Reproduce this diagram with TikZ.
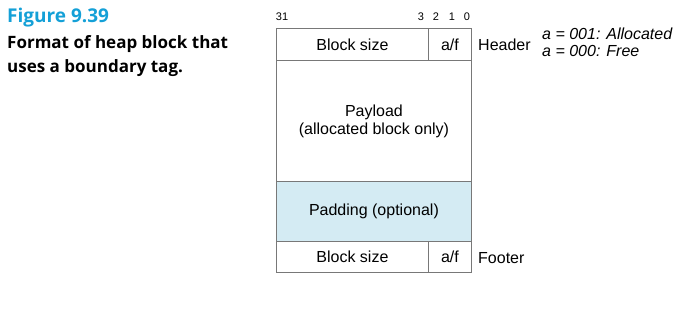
\documentclass[tikz,border=0pt]{standalone}
\usepackage{fontspec}
\setmainfont{Liberation Sans}
\newfontfamily\titlefont{Open Sans}
\definecolor{figblue}{RGB}{20,160,215}
\definecolor{padblue}{RGB}{212,235,243}
\definecolor{linegray}{RGB}{120,120,120}

\tikzset{
  cell/.style={draw=linegray, line width=0.9pt, inner sep=0pt, font=\fontsize{16}{19}\selectfont},
  bitnum/.style={font=\fontsize{11}{13}\selectfont, inner sep=0pt},
  side/.style={anchor=west, inner sep=0pt, font=\fontsize{16}{19}\selectfont},
  caption/.style={anchor=north west, inner sep=0pt, align=left, text=black,
    font=\titlefont\bfseries\fontsize{17}{24}\selectfont}
}

\begin{document}
\begin{tikzpicture}[x=1pt,y=-1pt]
    \useasboundingbox (0,0) rectangle (700,312);

    % Caption
    \node[caption, text=figblue, font=\titlefont\bfseries\fontsize{19}{24}\selectfont] (fig) at (7,8) {Figure 9.39};
    \node[caption] (cap) at (7,35) {Format of heap block that\\uses a boundary tag.};

    % Bit positions
    \node[bitnum] (b31) at (282,17) {31};
    \node[bitnum] (b3) at (421,17) {3};
    \node[bitnum] (b2) at (436,17) {2};
    \node[bitnum] (b1) at (452,17) {1};
    \node[bitnum] (b0) at (467,17) {0};

    % Header
    \node[cell, anchor=north west, minimum width=152, minimum height=32] (hsize) at (276,28) {Block size};
    \node[cell, anchor=north west, minimum width=43, minimum height=32] (haf) at (428,28) {a/f};

    % Payload
    \node[cell, anchor=north west, minimum width=195, minimum height=121, align=center] (payload) at (276,60)
        {Payload\\[-1pt](allocated block only)};

    % Padding
    \node[cell, fill=padblue, anchor=north west, minimum width=195, minimum height=60] (padding) at (276,181)
        {Padding (optional)};

    % Footer
    \node[cell, anchor=north west, minimum width=152, minimum height=31] (fsize) at (276,241) {Block size};
    \node[cell, anchor=north west, minimum width=43, minimum height=31] (faf) at (428,241) {a/f};

    % Labels
    \node[side] (header) at (478,45) {Header};
    \node[side] (footer) at (478,258) {Footer};
    \node[side, align=left, font=\itshape\fontsize{16}{17}\selectfont] (codes) at (542,42)
        {a = 001: Allocated\\a = 000: Free};

\end{tikzpicture}
\end{document}
